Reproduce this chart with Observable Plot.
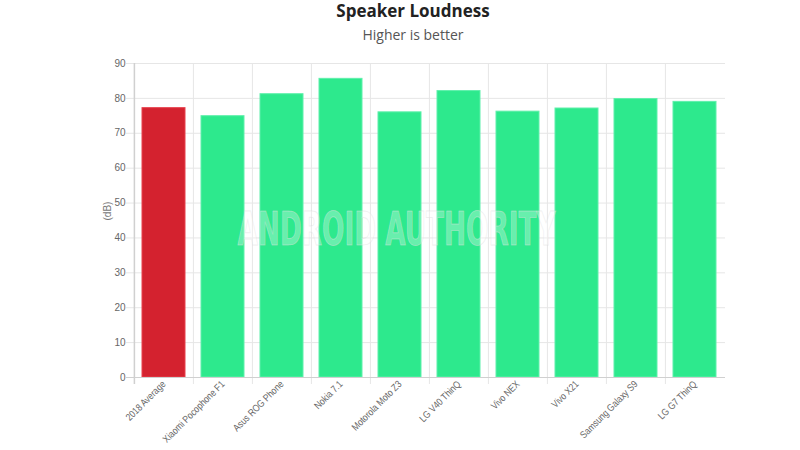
<!DOCTYPE html>
<html>
<head>
<meta charset="utf-8">
<script src="https://cdn.jsdelivr.net/npm/d3@7"></script>
<script src="https://cdn.jsdelivr.net/npm/@observablehq/plot@0.6"></script>
<style>
  html, body { margin: 0; padding: 0; background: #fff; }
  #wrap { width: 800px; height: 450px; position: relative; overflow: hidden; }
  #title { position: absolute; left: 0; width: 826px; top: -1px; text-align: center;
    font-family: "Open Sans", sans-serif; font-weight: 700; font-size: 17px; color: #222; }
  #subtitle { position: absolute; left: 0; width: 826px; top: 25px; text-align: center;
    font-family: "Open Sans", sans-serif; font-size: 14px; color: #555; }
  #chart { position: absolute; left: 0; top: 50px; }
  #chart svg { overflow: visible; }
</style>
</head>
<body>
<div id="wrap">
  <div id="title">Speaker Loudness</div>
  <div id="subtitle">Higher is better</div>
  <div id="chart"></div>
</div>
<script>
const categories = ["2018 Average", "Xiaomi Pocophone F1", "Asus ROG Phone", "Nokia 7.1", "Motorola Moto Z3",
  "LG V40 ThinQ", "Vivo NEX", "Vivo X21", "Samsung Galaxy S9", "LG G7 ThinQ"];
const loudness = [77.2, 74.9, 81.2, 85.6, 76.0, 82.1, 76.2, 77.1, 79.8, 79.0];
const highlight = ["2018 Average"];
const yTicks = [0, 10, 20, 30, 40, 50, 60, 70, 80, 90];

const data = categories.map((c, i) => ({name: c, value: loudness[i]}));

const W = 800, H = 400, mL = 133, mR = 75, mT = 13, mB = 73;
const step = (W - mL - mR) / categories.length;

const chart = Plot.plot({
  width: W, height: H,
  marginLeft: mL, marginRight: mR, marginTop: mT, marginBottom: mB,
  style: {fontFamily: "Liberation Sans, Arial, sans-serif", fontSize: "10px", color: "#666", background: "#fff"},
  x: {type: "band", domain: categories, paddingInner: 0.27, paddingOuter: 0.135},
  y: {domain: [0, 90]},
  marks: [
    Plot.ruleY(yTicks, {y: d => d, stroke: "#e6e6e6", strokeWidth: 1, insetLeft: -7}),
    Plot.ruleX(categories.slice(1), {x: d => d, dx: -step / 2, stroke: "#e6e6e6", strokeWidth: 1, insetBottom: -7}),
    Plot.barY(data, {
      x: "name", y: "value",
      fill: d => highlight.includes(d.name) ? "#d4222f" : "#2de98d",
      stroke: d => highlight.includes(d.name) ? "#e8404c" : "#5ff0ab",
      strokeWidth: 1
    }),
    Plot.ruleY([0], {stroke: "#d0d0d0", strokeWidth: 1, insetLeft: -7}),
    Plot.ruleX([categories[0]], {x: d => d, dx: -step / 2, stroke: "#d0d0d0", strokeWidth: 1.5, insetBottom: -7}),
    Plot.axisY({ticks: yTicks, tickSize: 0, tickPadding: 8, label: null, fill: "#666"}),
    Plot.axisX({tickSize: 0, tickPadding: 5, tickRotate: -45, label: null, fill: "#666",
      fontSize: 10, className: "xlab"}),
    Plot.text(["(dB)"], {frameAnchor: "left", dx: -26, rotate: -90, fill: "#777", fontSize: 10}),
    Plot.text(["ANDROID AUTHORITY"], {frameAnchor: "middle", dx: -33, dy: 10, fontSize: 46,
      fontWeight: "bold", fontFamily: "DejaVu Sans Condensed, sans-serif", fill: "#ffffff",
      stroke: "#d8d8d8", strokeWidth: 1, fillOpacity: 0.3, strokeOpacity: 0.45, className: "wm"})
  ]
});
document.getElementById("chart").appendChild(chart);
d3.select(chart).selectAll(".wm text").attr("textLength", 318).attr("lengthAdjust", "spacingAndGlyphs");
d3.select(chart).selectAll(".xlab text").each(function() {
  const w = this.getComputedTextLength();
  d3.select(this).attr("textLength", w * 0.84).attr("lengthAdjust", "spacingAndGlyphs");
});
</script>
</body>
</html>
